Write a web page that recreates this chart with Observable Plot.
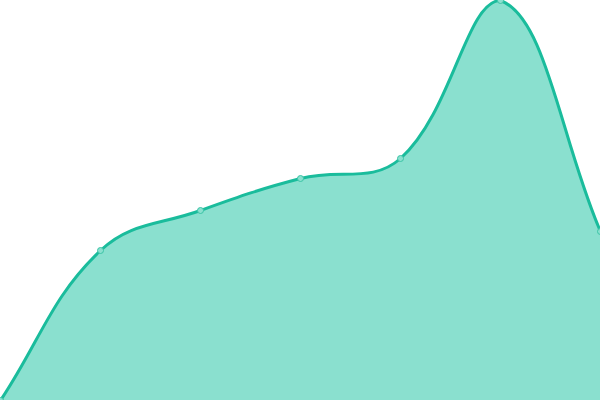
<!DOCTYPE html>
<html>
<head>
<meta charset="utf-8">
<script src="https://cdn.jsdelivr.net/npm/d3@7"></script>
<script src="https://cdn.jsdelivr.net/npm/@observablehq/plot@0.6"></script>
<style>
html,body{margin:0;padding:0;background:#fff;overflow:hidden}
</style>
</head>
<body>
<div id="chart"></div>
<script>
const positions = [0, 1, 2, 3, 4, 5, 6];
const values = [0, 150, 190, 222, 242, 400, 169];
const data = positions.map((x, i) => ({x, y: values[i]}));

// Tension spline (control points scaled by neighbour distances, capped to the frame)
function splineCurve(context) {
  const t = 0.4, L = 0, R = 600, T = 0, B = 400;
  let pts = [], line = NaN;
  const cap = (v, lo, hi) => Math.max(Math.min(v, hi), lo);
  return {
    areaStart() { line = 0; },
    areaEnd() { line = NaN; },
    lineStart() { pts = []; },
    point(x, y) { pts.push([+x, +y]); },
    lineEnd() {
      const n = pts.length;
      if (n) {
        if (line) context.lineTo(pts[0][0], pts[0][1]);
        else context.moveTo(pts[0][0], pts[0][1]);
        const cps = pts.map((p, i) => {
          const prev = pts[i - 1] || p, next = pts[i + 1] || p;
          const d01 = Math.hypot(p[0] - prev[0], p[1] - prev[1]);
          const d12 = Math.hypot(next[0] - p[0], next[1] - p[1]);
          let s01 = d01 / (d01 + d12), s12 = d12 / (d01 + d12);
          if (isNaN(s01)) s01 = 0;
          if (isNaN(s12)) s12 = 0;
          const fa = t * s01, fb = t * s12;
          return {
            px: cap(p[0] - fa * (next[0] - prev[0]), L, R),
            py: cap(p[1] - fa * (next[1] - prev[1]), T, B),
            nx: cap(p[0] + fb * (next[0] - prev[0]), L, R),
            ny: cap(p[1] + fb * (next[1] - prev[1]), T, B)
          };
        });
        for (let i = 1; i < n; ++i) {
          context.bezierCurveTo(cps[i - 1].nx, cps[i - 1].ny, cps[i].px, cps[i].py, pts[i][0], pts[i][1]);
        }
      }
      if (line || (line !== 0 && n === 1)) context.closePath();
      line = 1 - line;
    }
  };
}

const chart = Plot.plot({
  width: 600,
  height: 400,
  margin: 0,
  x: {domain: [0, 6], axis: null},
  y: {domain: [0, 400], axis: null},
  marks: [
    Plot.areaY(data, {x: "x", y: "y", curve: splineCurve, fill: "#8ae0cf"}),
    Plot.lineY(data, {x: "x", y: "y", curve: splineCurve, stroke: "#1abc9c", strokeWidth: 3}),
    Plot.dot(data, {x: "x", y: "y", r: 3, fill: "#8ae0cf", stroke: "#3cc4a6", strokeWidth: 1})
  ]
});
document.getElementById("chart").appendChild(chart);
</script>
</body>
</html>
